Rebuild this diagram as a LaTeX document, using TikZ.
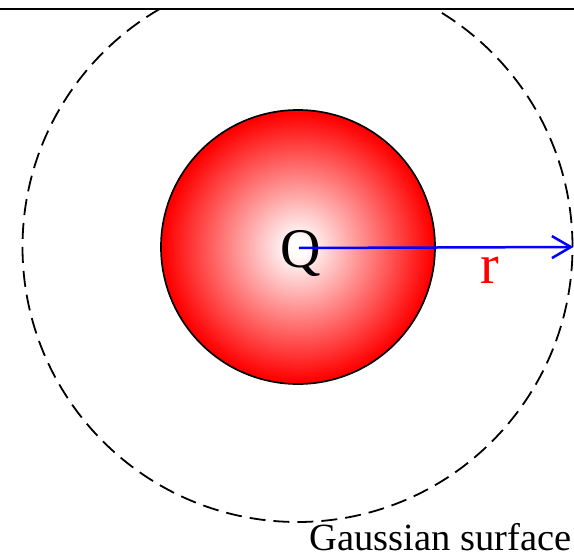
\documentclass[tikz,border=0pt]{standalone}
\usepackage{fontspec}
\setmainfont{Liberation Serif}
\usepackage{tikz}
\usetikzlibrary{arrows.meta, positioning}
\definecolor{chargered}{HTML}{FF0000}
\definecolor{radiusblue}{HTML}{0000FF}
\pgfdeclareradialshading{redglow}{\pgfpoint{0bp}{0bp}}{color(0bp)=(white); color(1.5bp)=(white); color(24.5bp)=(chargered); color(50bp)=(chargered)}

\begin{document}
\begin{tikzpicture}[
        x=1pt, y=-1pt,
        sphere/.style={
            circle,
            draw=black,
            line width=1.7pt,
            shading=redglow,
            inner sep=0pt,
            minimum size=274pt
        },
        gaussian/.style={
            circle,
            draw=black,
            line width=1.8pt,
            dash pattern=on 16pt off 8pt,
            inner sep=0pt,
            minimum size=550pt
        },
        bigletter/.style={font=\fontsize{56}{60}\selectfont, inner sep=0pt},
        caption/.style={font=\fontsize{38.5}{44}\selectfont, inner sep=0pt, text depth=0pt},
        arrow/.style={-{Straight Barb[length=19pt, width=22pt]}, line width=2.5pt, draw=radiusblue}
    ]
        \useasboundingbox (0,0) rectangle (574,557);

        % frame line along the top
        \coordinate (topleft) at (0,8.7);
        \coordinate (topright) at (574,8.7);
        \draw[line width=2pt] (topleft) -- (topright);

        \coordinate (O) at (299,248);

        \begin{scope}
            \clip (0,9.5) rectangle (574,557);
            \node[gaussian] (gauss) at (297.5,247) {};
        \end{scope}
        \node[sphere] (ball) at (298,247) {};

        \node[bigletter, anchor=base] (charge) at (301,267) {Q};
        \draw[arrow] (O) -- (gauss.east);
        \node[bigletter, anchor=base, text=chargered] (radius) at (490,283) {r};
        \node[caption, anchor=base east] (surface) at (571.5,550) {Gaussian surface};
    \end{tikzpicture}
\end{document}
